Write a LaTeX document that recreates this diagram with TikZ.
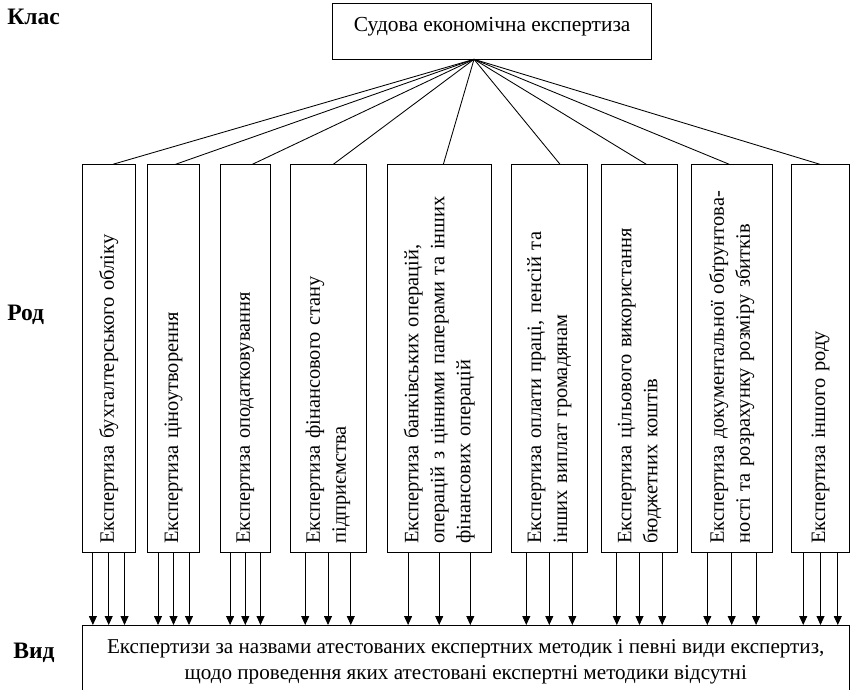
\documentclass[tikz,border=0pt]{standalone}
\usepackage{fontspec}
\setmainfont{Liberation Serif}
\usepackage{tikz}
\usetikzlibrary{calc,arrows.meta}
\newcommand{\unitLength}{0.7pt}
\tikzstyle{diagram} = [x=\unitLength, y=-\unitLength]
\tikzstyle{boxLine} = [draw=black, line width=.6pt]
\tikzstyle{levelText} = [font=\fontsize{16.5}{20}\selectfont\bfseries, anchor=base west, inner sep=0]
\tikzstyle{classBox} = [boxLine, outer sep=0, inner ysep=0, font=\fontsize{15}{18}\selectfont]
\tikzstyle{genusBox} = [boxLine, rotate=90, align=left, outer sep=0, inner xsep=9*\unitLength, font=\fontsize{14.3}{18.2}\selectfont]
\tikzstyle{kindBox} = [outer sep=0, align=center, inner ysep=14*\unitLength, font=\fontsize{14.8}{18.2}\selectfont]
\tikzstyle{hubLine} = [line width=.6pt]
\tikzstyle{arrowLine} = [line width=.6pt, -{Triangle[length=6.3pt, width=5.6pt]}]
\newcommand{\genusNode}[4]{\node [genusBox, minimum width={388.4*\unitLength}, text width={370*\unitLength}, minimum height={#2*\unitLength}] (#1) at (#3, 358.5) {#4};}
\newcommand{\threeArrows}[1]{
  \foreach \pos in {0.2,0.5,0.8} {
    \draw [arrowLine] ($(#1.north west)!\pos!(#1.south west)$) coordinate (tail) -- (tail |- vid.north);
  }
}

\begin{document}
\begin{tikzpicture}[diagram]
  \useasboundingbox (0,0) rectangle (851,690);
  \coordinate (pageBottom) at (0,690);

  \node [levelText] (klasLabel) at (7,25) {Клас};
  \node [levelText] (rodLabel) at (7,320) {Род};
  \node [levelText] (vydLabel) at (13,658) {Вид};

  \node [classBox, minimum width={319*\unitLength}, text height={28.7*\unitLength}, text depth={27.3*\unitLength}] (klas) at (492.2,31.3) {Судова економічна експертиза};
  \coordinate (hub) at ($(klas.south west)!0.443!(klas.south east)$);

  \genusNode{r1}{52.7}{108.7}{Експертиза бухгалтерського обліку}
  \genusNode{r2}{51.6}{173.5}{Експертиза ціноутворення}
  \genusNode{r3}{50.7}{245.3}{Експертиза оподатковування}
  \genusNode{r4}{76}{328}{Експертиза фінансового стану\\підприємства}
  \genusNode{r5}{103.7}{439.2}{Експертиза банківських операцій,\\операцій з цінними паперами та інших\\фінансових операцій}
  \genusNode{r6}{76.7}{549.3}{Експертиза оплати праці, пенсій та\\інших виплат громадянам}
  \genusNode{r7}{75.6}{639.5}{Експертиза цільового використання\\бюджетних коштів}
  \genusNode{r8}{81.3}{731.7}{Експертиза документальної обґрунтова-\\ності та розрахунку розміру збитків}
  \genusNode{r9}{57.6}{820.5}{Експертиза іншого роду}

  % lines from the class box
  \foreach \genus/\share in {r1/0.58, r2/0.54, r3/0.64, r4/0.57, r5/0.54, r6/0.64, r7/0.59, r8/0.47, r9/0.49} {
    \draw [hubLine] (hub) -- ($(\genus.north east)!\share!(\genus.south east)$);
  }

  \node [kindBox, anchor=north, minimum width={766.7*\unitLength}] (vid) at (465.7,625) {Експертизи за назвами атестованих експертних методик і певні види експертиз,\\щодо проведення яких атестовані експертні методики відсутні};
  \draw [boxLine] (vid.north west |- pageBottom) -- (vid.north west) -- (vid.north east) -- (vid.north east |- pageBottom);

  \foreach \genus in {r1,r2,r3,r4,r5,r6,r7,r8,r9} {
    \threeArrows{\genus}
  }
\end{tikzpicture}
\end{document}
